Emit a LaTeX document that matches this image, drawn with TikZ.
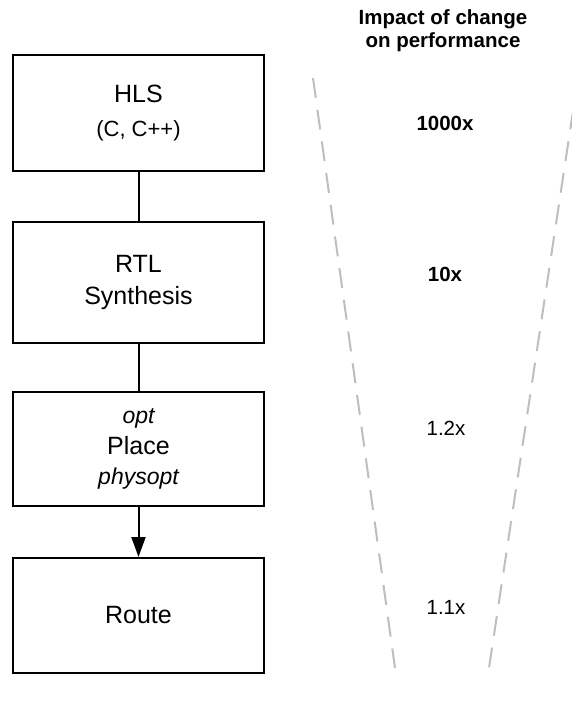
\documentclass[tikz,border=0pt]{standalone}
\usepackage{fontspec}
\setmainfont{Liberation Sans}
\usetikzlibrary{arrows.meta}
\definecolor{dashgray}{RGB}{190,190,190}
\tikzset{
  stagebox/.style={draw=black, line width=2pt, minimum width=251pt, minimum height=116pt, align=center, inner sep=0pt, font=\fontsize{25}{32}\selectfont},
  link/.style={line width=2pt, draw=black},
  funnel/.style={line width=2pt, draw=dashgray, dash pattern=on 20pt off 12pt},
  impact/.style={font=\fontsize{20.5}{24}\selectfont, inner sep=0pt},
  header/.style={font=\fontsize{20.5}{23}\selectfont\bfseries, align=center, inner sep=0pt}
}
\begin{document}
\begin{tikzpicture}[x=1pt,y=-1pt]
\useasboundingbox (0,0) rectangle (572,705);
\node[stagebox] (hls) at (138.5,113) {HLS\\[2pt]{\fontsize{22}{32}\selectfont (C, C++)}};
\node[stagebox, minimum height=121pt] (rtl) at (138.5,282.5) {RTL\\Synthesis};
\node[stagebox, minimum height=114pt] (place) at (138.5,449) {{\itshape\fontsize{23}{31}\selectfont opt}\\[-1pt]Place\\[-2pt]{\itshape\fontsize{23}{31}\selectfont physopt}};
\node[stagebox, minimum height=115pt] (route) at (138.5,615.5) {Route};
\draw[link] (hls) -- (rtl);
\draw[link] (rtl) -- (place);
\draw[link, -{Triangle[length=20pt,width=14pt]}] (place) -- (route);

\node[header] (title) at (443,31) {Impact of change\\on performance};
\node[impact, font=\fontsize{20.5}{24}\selectfont\bfseries] (i1) at (445,123) {1000x};
\node[impact, font=\fontsize{20.5}{24}\selectfont\bfseries] (i2) at (445,274) {10x};
\node[impact] (i3) at (446,428) {1.2x};
\node[impact] (i4) at (446,607) {1.1x};

\coordinate (lt) at (313,78);
\coordinate (lb) at (395,668);
\coordinate (rt) at (578,78);
\coordinate (rb) at (489,668);
\begin{scope}
\clip (0,0) rectangle (572,705);
\draw[funnel] (lt) -- (lb);
\draw[funnel] (rt) -- (rb);
\end{scope}
\end{tikzpicture}
\end{document}
